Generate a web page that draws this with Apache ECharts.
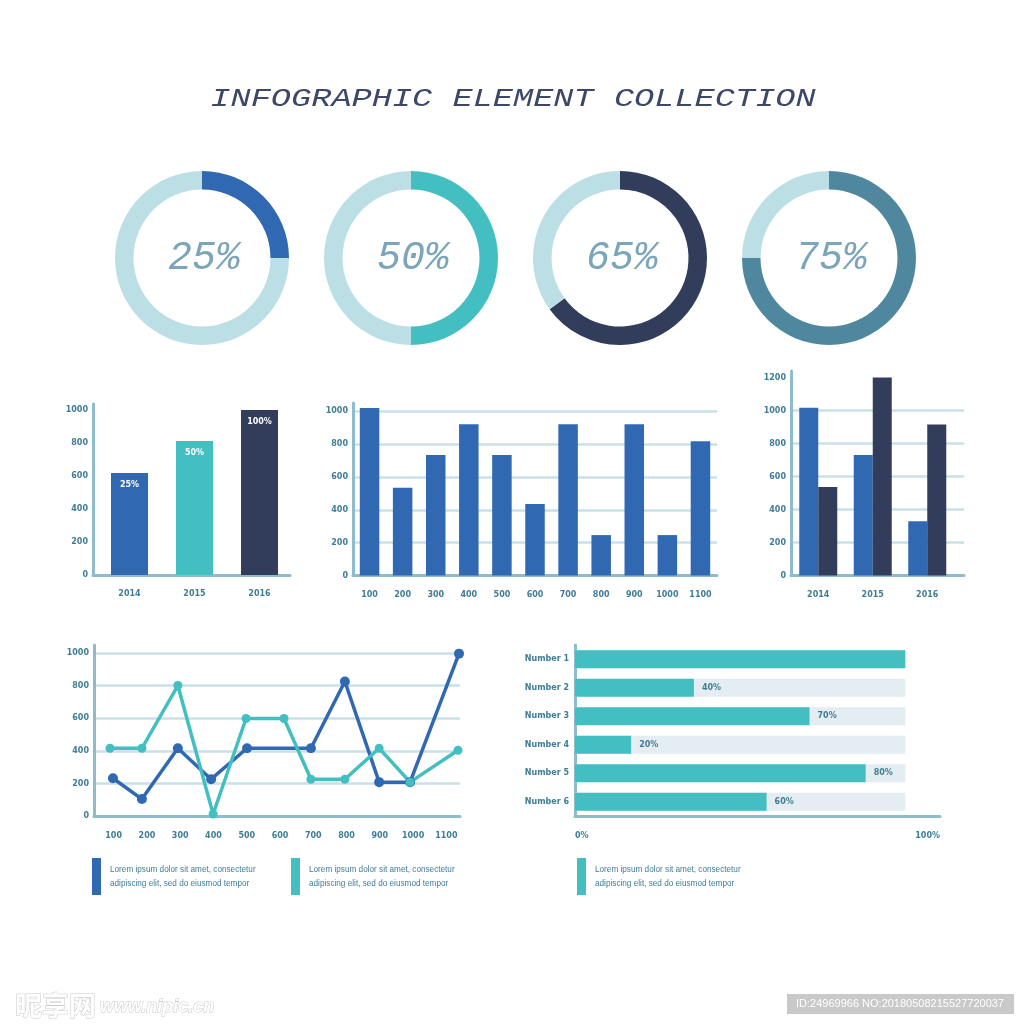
<!DOCTYPE html>
<html>
<head>
<meta charset="utf-8">
<title>Infographic element collection</title>
<style>
html, body { margin: 0; padding: 0; background: #fff; }
#main { width: 1024px; height: 1024px; }
</style>
<script src="https://cdn.jsdelivr.net/npm/echarts@6/dist/echarts.min.js"></script>
</head>
<body>
<div id="main"></div>
<script>
// donuts
var donutValues = [25, 50, 65, 75];

// bar chart left
var leftYears = ['2014', '2015', '2016'];
var leftValues = [618, 812, 1000];
var leftLabels = ['25%', '50%', '100%'];

// bar chart middle
var midCats = ['100', '200', '300', '400', '500', '600', '700', '800', '900', '1000', '1100'];
var midValues = [1020, 534, 733, 920, 733, 435, 920, 246, 920, 246, 817];

// grouped bars right
var rightYears = ['2014', '2015', '2016'];
var rightBlue = [1017, 730, 329];
var rightNavy = [536, 1200, 915];

// line chart, x is read in category bands because the points sit off the band centres
var lineCats = ['100', '200', '300', '400', '500', '600', '700', '800', '900', '1000', '1100'];
var blueX = [0.57, 1.44, 2.52, 3.52, 4.6, 6.52, 7.54, 8.57, 9.5, 10.97];
var blueY = [232, 104, 416, 226, 416, 416, 826, 208, 208, 997];
var tealX = [0.48, 1.44, 2.52, 3.58, 4.57, 5.71, 6.52, 7.54, 8.57, 9.5, 10.94];
var tealY = [416, 416, 801, 12, 599, 599, 226, 226, 416, 208, 404];

// horizontal bars
var rowNames = ['Number 1', 'Number 2', 'Number 3', 'Number 4', 'Number 5', 'Number 6'];
var rowValues = [100, 36, 71, 17, 88, 58];
var rowTrack = [100, 100, 100, 100, 100, 100];
var rowLabels = ['', '40%', '70%', '20%', '80%', '60%'];

var note1 = 'Lorem ipsum dolor sit amet, consectetur';
var note2 = 'adipiscing elit, sed do eiusmod tempor';

var BLUE = '#3068b2', TEAL = '#43bfc2', NAVY = '#323d5c', STEEL = '#4f879f';
var PALE = '#bbdfe5', AXIS = '#8fbccb', GRID = '#c9e1e7', TRACK = '#e3edf2', TICK = '#3f7d96';
var FONT = 'DejaVu Sans';

var tickLabel = { color: TICK, fontSize: 8, fontFamily: FONT, fontWeight: 'bold' };
var axisLine = { show: true, lineStyle: { color: AXIS, width: 3 } };

function plainNumber(v) {
    return String(v);
}

function yAxis(gridIndex, max, withGrid) {
    return {
        type: 'value', gridIndex: gridIndex, min: 0, max: max, interval: 200,
        axisLine: axisLine, axisTick: { show: false },
        axisLabel: Object.assign({ margin: 5, showMaxLabel: false, formatter: plainNumber }, tickLabel),
        splitLine: {
            show: withGrid, showMinLine: false, showMaxLine: false,
            lineStyle: { color: GRID, width: 2.5 }
        }
    };
}

function xAxis(gridIndex, cats) {
    return {
        type: 'category', gridIndex: gridIndex, data: cats,
        axisLine: axisLine, axisTick: { show: false },
        axisLabel: Object.assign({ margin: 15, interval: 0 }, tickLabel)
    };
}

function pairs(xs, ys) {
    return xs.map(function (x, i) { return [x, ys[i]]; });
}

var donutColors = [BLUE, TEAL, NAVY, STEEL];
var series = [];

// 环形图
donutValues.forEach(function (v, i) {
    series.push({
        type: 'pie', silent: true, animation: false,
        center: [202 + i * 209, 258], radius: [68.5, 87], startAngle: 90,
        labelLine: { show: false },
        data: [
            {
                value: v, itemStyle: { color: donutColors[i] },
                label: {
                    show: true, position: 'center', formatter: v + '%', padding: [9, 0, 0, 4],
                    fontFamily: 'Liberation Mono', fontStyle: 'italic', fontSize: 40, color: '#7ba6b9'
                }
            },
            { value: 100 - v, itemStyle: { color: PALE }, label: { show: false } }
        ]
    });
});

series.push({
    type: 'bar', xAxisIndex: 7, yAxisIndex: 6, barWidth: 37,
    data: leftValues.map(function (v, i) {
        return { value: v, itemStyle: { color: [BLUE, TEAL, NAVY][i] } };
    }),
    label: {
        show: true, position: 'insideTop', distance: 8, color: '#fff', fontSize: 8,
        fontFamily: FONT, fontWeight: 'bold',
        formatter: function (p) { return leftLabels[p.dataIndex]; }
    }
});
series.push({
    type: 'bar', xAxisIndex: 1, yAxisIndex: 1, barWidth: 19.5,
    itemStyle: { color: BLUE }, data: midValues
});
series.push({
    type: 'bar', xAxisIndex: 3, yAxisIndex: 3, barWidth: 19, barGap: 0,
    itemStyle: { color: BLUE }, data: rightBlue
});
series.push({
    type: 'bar', xAxisIndex: 3, yAxisIndex: 3, barWidth: 19, barGap: 0,
    itemStyle: { color: NAVY }, data: rightNavy
});
series.push({
    type: 'line', xAxisIndex: 5, yAxisIndex: 4, data: pairs(blueX, blueY), clip: false,
    symbol: 'circle', symbolSize: 10, lineStyle: { color: BLUE, width: 3.5 }, itemStyle: { color: BLUE }
});
series.push({
    type: 'line', xAxisIndex: 5, yAxisIndex: 4, data: pairs(tealX, tealY), clip: false,
    symbol: 'circle', symbolSize: 9, lineStyle: { color: TEAL, width: 3.5 }, itemStyle: { color: TEAL }
});
series.push({
    type: 'bar', xAxisIndex: 6, yAxisIndex: 5, barWidth: 18, barGap: '-100%',
    itemStyle: { color: TRACK }, data: rowTrack
});
series.push({
    type: 'bar', xAxisIndex: 6, yAxisIndex: 5, barWidth: 18, barGap: '-100%',
    itemStyle: { color: TEAL }, data: rowValues,
    label: {
        show: true, position: 'right', distance: 8, color: TICK, fontSize: 8,
        fontFamily: FONT, fontWeight: 'bold',
        formatter: function (p) { return rowLabels[p.dataIndex]; }
    }
});

// 说明文字和图例色块
function noteBlock(x, color) {
    return [
        { type: 'rect', shape: { x: x, y: 858, width: 9, height: 37 }, style: { fill: color } },
        { type: 'text', x: x + 18, y: 870, style: { text: note1, fill: TICK, font: '8.2px "Liberation Sans"', verticalAlign: 'middle' } },
        { type: 'text', x: x + 18, y: 884, style: { text: note2, fill: TICK, font: '8.2px "Liberation Sans"', verticalAlign: 'middle' } }
    ];
}

var graphics = [
    {
        type: 'text', x: 513, y: 99, scaleX: 1.345,
        style: {
            text: 'INFOGRAPHIC ELEMENT COLLECTION', fill: '#3d4868',
            font: 'italic 25px "Liberation Mono"', align: 'center', verticalAlign: 'middle'
        }
    },
    {
        type: 'text', x: 15, y: 1006,
        style: {
            text: '昵享网', fill: '#fff', stroke: '#c8c8c8', lineWidth: 1,
            font: 'bold 27px "Noto Sans CJK SC"', verticalAlign: 'middle'
        }
    },
    {
        type: 'text', x: 100, y: 1007,
        style: {
            text: 'www.nipic.cn', fill: '#fff', stroke: '#c8c8c8', lineWidth: 1,
            font: 'italic bold 18px "Liberation Sans"', verticalAlign: 'middle'
        }
    },
    { type: 'rect', shape: { x: 787, y: 994, width: 227, height: 20 }, style: { fill: '#c9c9c9' } },
    {
        type: 'text', x: 900, y: 1004,
        style: {
            text: 'ID:24969966 NO:20180508215527720037', fill: '#fff',
            font: '11px "Liberation Sans"', align: 'center', verticalAlign: 'middle'
        }
    }
].concat(noteBlock(92, BLUE), noteBlock(291, TEAL), noteBlock(577, TEAL));

var myChart = echarts.init(document.getElementById('main'));
myChart.setOption({
    animation: false,
    backgroundColor: '#fff',
    grid: [
        { left: 93, top: 404, width: 197, height: 171 },    // 左图坐标轴
        { left: 353, top: 403, width: 364, height: 172.5 }, // 中柱状图
        { left: 791, top: 410.5, width: 173, height: 165 }, // 右图网格线
        { left: 791, top: 371, width: 163.5, height: 204.5 }, // 右图柱子
        { left: 94, top: 645, width: 366, height: 171 },    // 折线图
        { left: 575, top: 645, width: 365, height: 171 },   // 条形图
        { left: 97, top: 404, width: 195, height: 171 }     // 左图柱子
    ],
    xAxis: [
        Object.assign(xAxis(0, leftYears), { axisLabel: { show: false } }),
        xAxis(1, midCats),
        Object.assign(xAxis(2, rightYears), { axisLabel: { show: false } }),
        Object.assign(xAxis(3, rightYears), { axisLine: { show: false } }),
        // labels only, the line series use the hidden value axis after it
        Object.assign(xAxis(4, lineCats), {
            axisLabel: Object.assign({ margin: 16, interval: 0, padding: [0, 0, 0, 6] }, tickLabel)
        }),
        { type: 'value', gridIndex: 4, min: 0, max: 11, show: false },
        {
            type: 'value', gridIndex: 5, min: 0, max: 110.5, interval: 110.5,
            axisLine: axisLine, axisTick: { show: false }, splitLine: { show: false },
            axisLabel: Object.assign({
                margin: 16, alignMinLabel: 'left', alignMaxLabel: 'right',
                formatter: function (v) { return v === 0 ? '0%' : '100%'; }
            }, tickLabel)
        },
        Object.assign(xAxis(6, leftYears), { axisLine: { show: false } })
    ],
    yAxis: [
        yAxis(0, 1036, false),
        yAxis(1, 1050, true),
        Object.assign(yAxis(2, 1000, true), {
            axisLine: { show: false }, axisLabel: { show: false },
            splitLine: { show: true, showMinLine: false, lineStyle: { color: GRID, width: 2.5 } }
        }),
        yAxis(3, 1240, false),
        yAxis(4, 1050, true),
        {
            type: 'category', gridIndex: 5, data: rowNames, inverse: true,
            axisLine: axisLine, axisTick: { show: false },
            axisLabel: Object.assign({ margin: 6, interval: 0 }, tickLabel)
        },
        { type: 'value', gridIndex: 6, min: 0, max: 1036, show: false }
    ],
    series: series,
    graphic: graphics
});
</script>
</body>
</html>
